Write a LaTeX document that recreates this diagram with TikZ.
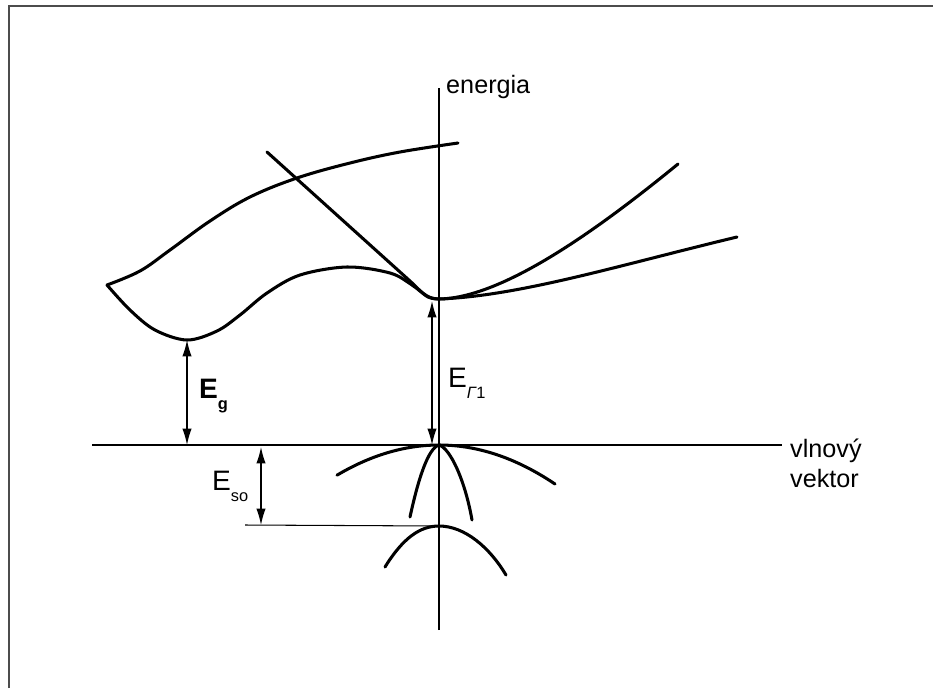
\documentclass[tikz,border=0pt]{standalone}
\usepackage{fontspec}
\setmainfont{Liberation Sans}
\usetikzlibrary{arrows.meta, positioning, calc}

\newcommand{\gapname}[2]{#1\raisebox{-0.42em}{\fontsize{14}{14}\selectfont #2}}

\begin{document}
\begin{tikzpicture}[
        x=0.03cm, y=-0.03cm,
        >={Latex[length=14pt, width=8pt]},
        axis/.style={line width=0.9pt},
        band/.style={line width=2.6pt, line cap=round, line join=round},
        gap/.style={<->, line width=1.1pt},
        lbl/.style={anchor=base west, inner sep=0pt, font=\fontsize{21.5}{24}\selectfont},
        elbl/.style={anchor=base west, inner sep=0pt, font=\fontsize{24}{26}\selectfont}
    ]
    \useasboundingbox (0,0) rectangle (933,688);
    \draw[line width=2pt, black!70] (9,688) -- (9,6) -- (933,6);

    % axes
    \coordinate (ktop) at (439,88);
    \coordinate (kbot) at (439,630);
    \coordinate (kleft) at (92,445);
    \coordinate (kright) at (782,445);
    \draw[axis] (kbot) -- (ktop);
    \draw[axis] (kleft) -- (kright);
    \node[lbl] (energia) at (446,93) {energia};
    \node[lbl] (vlnovy) at (790,457) {vlnový};
    \node[lbl, below=6pt of vlnovy.south west, anchor=north west] (vektor) {vektor};

    % band extrema
    \coordinate (gamma) at (439,299);
    \coordinate (valley) at (187,340);
    \coordinate (vtop) at (439,445);
    \coordinate (sotop) at (439,526);

    % conduction band
    \draw[band] plot[smooth, tension=0.55] coordinates {(107,285) (130,310) (155,330) (187,340)
        (217,331) (240,315) (267,293) (300,275) (347,267) (390,273) (412,285) (428,297) (gamma)};
    \draw[band] plot[smooth, tension=0.6] coordinates {(107,285) (140,271) (170,250)
        (210,221) (250,197) (297,178) (350,163) (400,152) (458,143)};
    \draw[band] (267,152) -- (410,281) to[out=-42, in=180] (gamma);
    \draw[band] (gamma) .. controls (500,298) and (590,236) .. (678,164);
    \draw[band] (gamma) .. controls (520,296) and (620,265) .. (737,237);

    % valence bands
    \draw[band] plot[domain=-102:116, samples=60] ({439+\x}, {445+0.0029*\x*\x});
    \draw[band] (410,517) .. controls (418,480) and (428,448) .. (vtop)
        .. controls (450,448) and (465,480) .. (472,520);
    \draw[band] (385,567) .. controls (403,538) and (420,526) .. (sotop)
        .. controls (465,526) and (490,548) .. (506,575);

    % gaps
    \coordinate (sobase) at (245,525);
    \draw[axis] (sobase) -- (sotop);
    \draw[gap] (valley |- kleft) -- (valley);
    \draw[gap] ($(vtop)+(-7,0)$) -- ($(gamma)+(-7,2)$);
    \draw[gap] (261,447) -- (sobase -| 261,0);
    \node[elbl, font=\fontsize{24}{26}\selectfont\bfseries] (eg) at (199,398) {\gapname{E}{g}};
    \node[elbl] (egamma) at (448,387) {\gapname{E}{{\itshape Γ}1}};
    \node[elbl] (eso) at (212,490) {\gapname{E}{so}};
\end{tikzpicture}
\end{document}
